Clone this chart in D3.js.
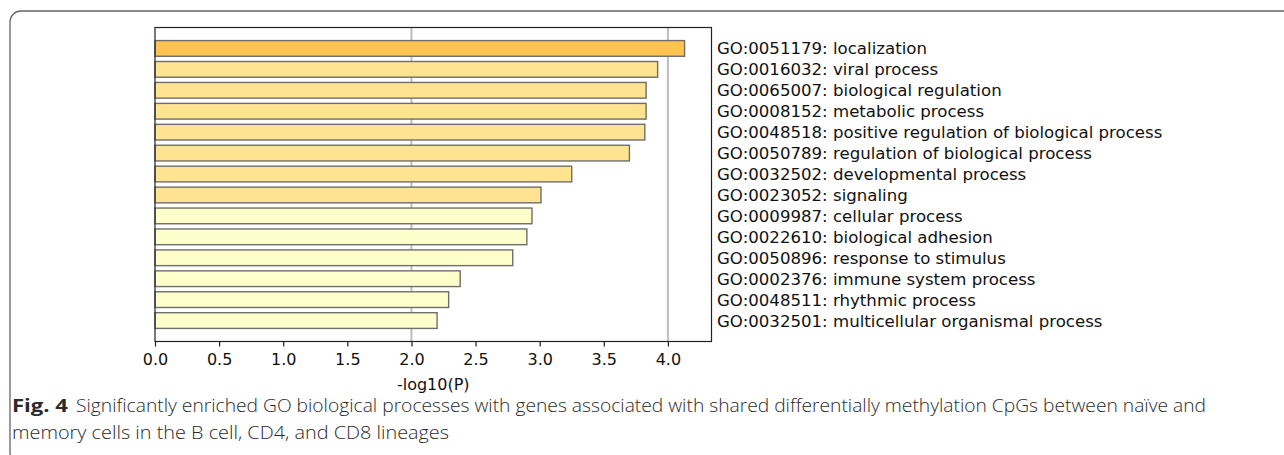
<!DOCTYPE html>
<html>
<head>
<meta charset="utf-8">
<script src="https://cdn.jsdelivr.net/npm/d3@7"></script>
<style>
  html, body { margin: 0; padding: 0; background: #fff; }
  svg { display: block; }
</style>
</head>
<body>
<div id="chart"></div>
<script>
// GO terms, top to bottom
var goIds = ["GO:0051179", "GO:0016032", "GO:0065007", "GO:0008152", "GO:0048518",
  "GO:0050789", "GO:0032502", "GO:0023052", "GO:0009987", "GO:0022610",
  "GO:0050896", "GO:0002376", "GO:0048511", "GO:0032501"];
var terms = ["localization", "viral process", "biological regulation", "metabolic process",
  "positive regulation of biological process", "regulation of biological process",
  "developmental process", "signaling", "cellular process", "biological adhesion",
  "response to stimulus", "immune system process", "rhythmic process",
  "multicellular organismal process"];
// -log10(P)
var logP = [4.13, 3.92, 3.83, 3.83, 3.82, 3.70, 3.25, 3.01, 2.94, 2.90, 2.79, 2.38, 2.29, 2.20];
// colour tier of each bar (0 = strongest)
var tier = [0, 1, 1, 1, 1, 1, 1, 1, 2, 2, 2, 2, 2, 2];
var tierColors = ["#fec44f", "#fee391", "#ffffcc"];
var xTicks = [0, 0.5, 1, 1.5, 2, 2.5, 3, 3.5, 4];
var gridAt = [2, 4];

var W = 1284, H = 455;
var plot = {left: 155, right: 711.5, top: 27.5, bottom: 341.5};

var svg = d3.select("#chart").append("svg").attr("width", W).attr("height", H);

// figure frame (rounded, runs off right and bottom)
svg.append("rect")
  .attr("x", 10).attr("y", 11).attr("width", 1320).attr("height", 452)
  .attr("rx", 11).attr("ry", 11)
  .attr("fill", "none").attr("stroke", "#666").attr("stroke-width", 1.3);

var x = d3.scaleLinear().domain([0, 4.34]).range([plot.left, plot.right]);
var y = d3.scaleBand().domain(d3.range(logP.length))
  .range([plot.top, plot.bottom]).paddingInner(0.25).paddingOuter(0.625);

// grid lines behind bars
svg.selectAll("line.grid").data(gridAt).enter().append("line")
  .attr("class", "grid")
  .attr("x1", function(d) { return x(d); }).attr("x2", function(d) { return x(d); })
  .attr("y1", plot.top).attr("y2", plot.bottom)
  .attr("stroke", "#bdbdbd").attr("stroke-width", 2);

svg.selectAll("rect.bar").data(logP).enter().append("rect")
  .attr("class", "bar")
  .attr("x", x(0))
  .attr("y", function(d, i) { return y(i); })
  .attr("width", function(d) { return x(d) - x(0); })
  .attr("height", y.bandwidth())
  .attr("fill", function(d, i) { return tierColors[tier[i]]; })
  .attr("stroke", "#6e6e6e").attr("stroke-width", 1.4);

// frame of the axes
svg.append("rect")
  .attr("x", plot.left).attr("y", plot.top)
  .attr("width", plot.right - plot.left).attr("height", plot.bottom - plot.top)
  .attr("fill", "none").attr("stroke", "#222").attr("stroke-width", 1.2);

var xAxis = d3.axisBottom(x).tickValues(xTicks).tickFormat(d3.format(".1f"))
  .tickSize(5).tickPadding(7);
var gx = svg.append("g").attr("transform", "translate(0," + plot.bottom + ")").call(xAxis);
gx.select(".domain").remove();
gx.selectAll(".tick line").attr("stroke", "#222").attr("stroke-width", 1.2);
gx.selectAll(".tick text")
  .attr("font-family", "DejaVu Sans").attr("font-size", 16).attr("fill", "#111");

svg.append("text")
  .attr("x", (plot.left + plot.right) / 2).attr("y", 390)
  .attr("text-anchor", "middle")
  .attr("font-family", "DejaVu Sans").attr("font-size", 16).attr("fill", "#111")
  .text("-log10(P)");

// term labels on the right
svg.selectAll("text.term").data(goIds).enter().append("text")
  .attr("class", "term")
  .attr("x", plot.right + 5.5)
  .attr("y", function(d, i) { return y(i) + y.bandwidth() / 2; })
  .attr("dy", "0.36em")
  .attr("font-family", "DejaVu Sans").attr("font-size", 16.6).attr("fill", "#111")
  .text(function(d, i) { return d + ": " + terms[i]; });

// caption
var cap = svg.append("g").attr("font-family", "Open Sans").attr("fill", "#2a2a2a");
cap.append("text").attr("x", 12).attr("y", 412)
  .attr("font-size", 18.5).attr("font-weight", "bold")
  .attr("textLength", 56).attr("lengthAdjust", "spacingAndGlyphs")
  .text("Fig. 4");
cap.append("text").attr("x", 76).attr("y", 412)
  .attr("font-size", 18.5).attr("font-weight", 300)
  .attr("textLength", 1130).attr("lengthAdjust", "spacingAndGlyphs")
  .text("Significantly enriched GO biological processes with genes associated with shared differentially methylation CpGs between naïve and");
cap.append("text").attr("x", 12).attr("y", 439)
  .attr("font-size", 18.5).attr("font-weight", 300)
  .attr("textLength", 437).attr("lengthAdjust", "spacingAndGlyphs")
  .text("memory cells in the B cell, CD4, and CD8 lineages");
</script>
</body>
</html>
